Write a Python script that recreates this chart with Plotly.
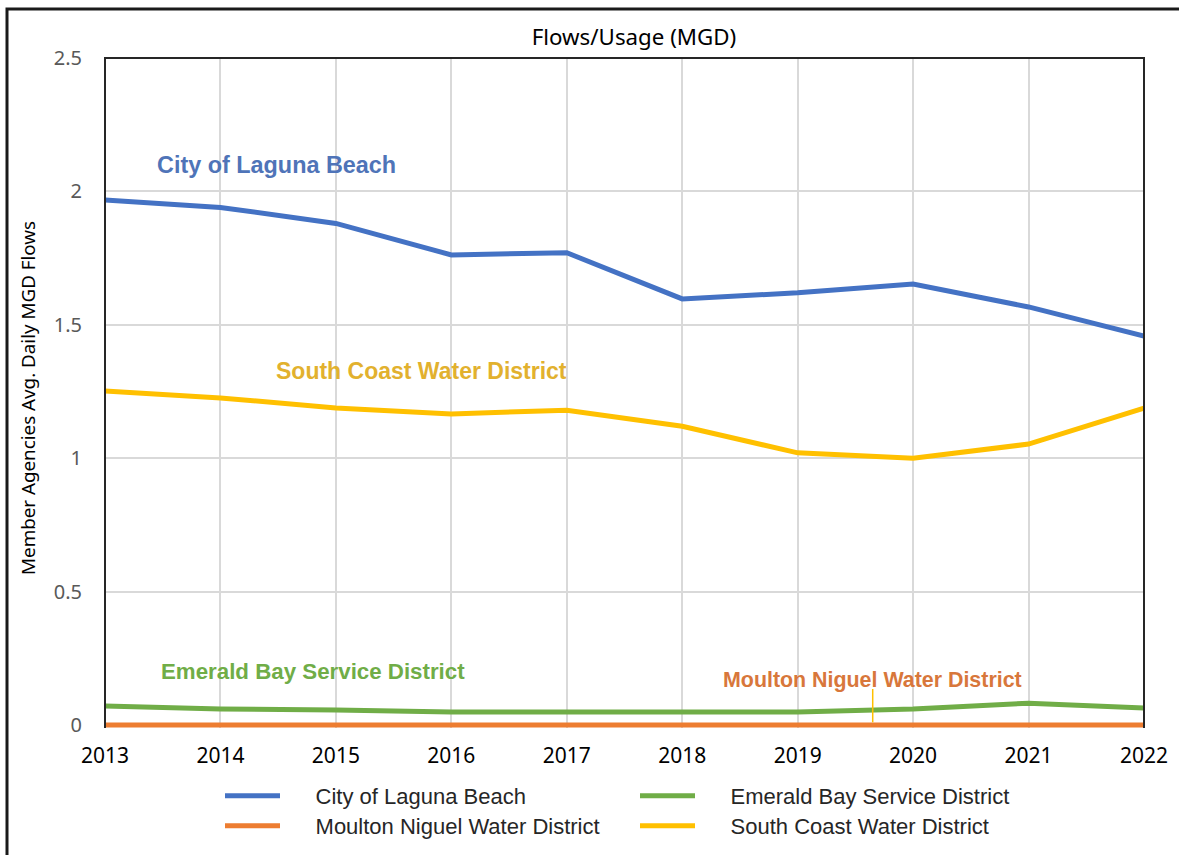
import plotly.graph_objects as go

years = [2013, 2014, 2015, 2016, 2017, 2018, 2019, 2020, 2021, 2022]
laguna = [1.968, 1.94, 1.88, 1.762, 1.77, 1.597, 1.62, 1.653, 1.567, 1.458]
emerald = [0.071, 0.06, 0.056, 0.049, 0.049, 0.047, 0.049, 0.06, 0.082, 0.064]
moulton = [0, 0, 0, 0, 0, 0, 0, 0, 0, 0]
south_coast = [1.252, 1.226, 1.188, 1.166, 1.18, 1.12, 1.02, 1.0, 1.053, 1.188]
y_ticks = [0, 0.5, 1, 1.5, 2, 2.5]
y_tick_labels = ["0", "0.5", "1", "1.5", "2", "2.5"]

PAD = "&nbsp;" * 5
series = [
    ("City of Laguna Beach", laguna, "#4472C4", "legend"),
    ("Emerald Bay Service District", emerald, "#70AD47", "legend"),
    ("Moulton Niguel Water District", moulton, "#ED7D31", "legend2"),
    ("South Coast Water District", south_coast, "#FFC000", "legend2"),
]

fig = go.Figure()
for name, vals, col, leg in series:
    fig.add_trace(go.Scatter(x=years, y=vals, name=PAD + name, mode="lines", legend=leg,
                             line=dict(color=col, width=5)))

W, H = 1179, 855
ml, mr, mt, mb = 105, 35, 58, 127
pw = W - ml - mr
ph = H - mt - mb

def px(x):
    return (x - ml) / pw

def py(y):
    return (H - mb - y) / ph

annos = [
    ("City of Laguna Beach", 276, 165, "#4F74B8", 23.4),
    ("South Coast Water District", 421, 371, "#E2B12E", 23),
    ("Emerald Bay Service District", 313, 671, "#70AD47", 22.3),
    ("Moulton Niguel Water District", 872, 680, "#D8773B", 21.4),
]
annotations = []
for t, x, y, c, s in annos:
    annotations.append(dict(text="<b>%s</b>" % t, x=px(x), y=py(y), xref="paper", yref="paper",
                            showarrow=False, xanchor="center", yanchor="middle",
                            font=dict(family="Liberation Sans", size=s, color=c)))
annotations.append(dict(text="Member Agencies Avg. Daily MGD Flows", textangle=-90,
                        x=px(28), y=py(398), xref="paper", yref="paper", showarrow=False,
                        xanchor="center", yanchor="middle",
                        font=dict(family="Noto Sans", size=18.8, color="#000000")))

shapes = [
    dict(type="path", xref="paper", yref="paper",
         path="M 0,0 L 0,1 L 1,1 L 1,0", line=dict(color="#262626", width=2), layer="above"),
    dict(type="rect", xref="paper", yref="paper",
         x0=px(7), x1=px(1190), y0=py(9), y1=py(880), line=dict(color="#1a1a1a", width=3)),
    dict(type="line", xref="x", yref="y", x0=2019.65, x1=2019.65, y0=0.01, y1=0.135,
         line=dict(color="#FFC000", width=1.5)),
]

leg_common = dict(orientation="h", xanchor="left", yanchor="middle",
                  entrywidth=345, entrywidthmode="pixels", itemwidth=55,
                  font=dict(family="Liberation Sans", size=22, color="#262626"),
                  bgcolor="rgba(0,0,0,0)")

fig.update_layout(
    width=W, height=H,
    margin=dict(l=ml, r=mr, t=mt, b=mb, autoexpand=False),
    paper_bgcolor="white", plot_bgcolor="white",
    title=dict(text="Flows/Usage (MGD)", x=634 / W, y=1 - 37 / H, xanchor="center", yanchor="middle",
               font=dict(family="Noto Sans", size=22.3, color="#000000")),
    xaxis=dict(range=[2013, 2022], tickmode="array", tickvals=years,
               ticktext=[str(v) for v in years], showgrid=True, gridcolor="#D9D9D9", gridwidth=2,
               showline=False, zeroline=False, ticks="", ticklabelstandoff=13,
               tickfont=dict(family="Noto Sans", size=21, color="#000000")),
    yaxis=dict(range=[-0.0112, 2.5], tickmode="array", tickvals=y_ticks, ticktext=y_tick_labels,
               showgrid=True, gridcolor="#D9D9D9", gridwidth=2, zeroline=False, showline=False,
               ticks="", ticklabelstandoff=22,
               tickfont=dict(family="Noto Sans", size=20, color="#595959")),
    legend=dict(x=px(220), y=py(796), **leg_common),
    legend2=dict(x=px(220), y=py(826), **leg_common),
    annotations=annotations,
    shapes=shapes,
)

fig.write_html("out.html", config={"displayModeBar": False},
               post_script="document.body.style.margin='0';")
